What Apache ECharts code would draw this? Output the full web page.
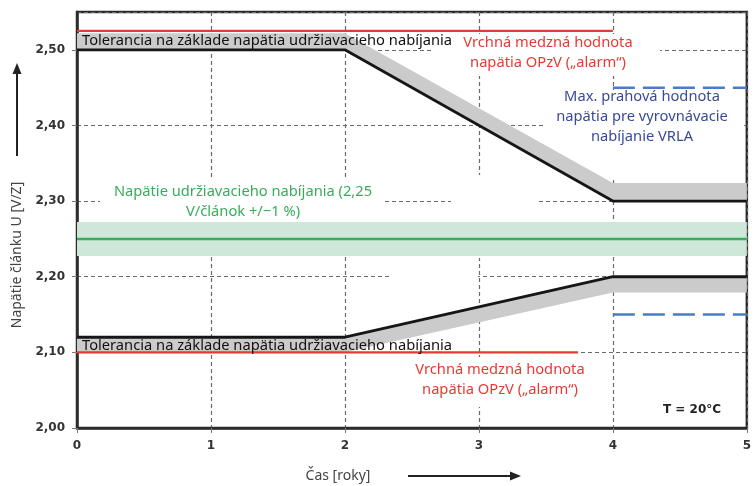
<!DOCTYPE html>
<html>
<head>
<meta charset="utf-8">
<script src="https://cdn.jsdelivr.net/npm/echarts@6/dist/echarts.min.js"></script>
<style>
  html, body { margin: 0; padding: 0; background: #ffffff; }
  #chart { width: 754px; height: 486px; }
</style>
</head>
<body>
<div id="chart"></div>
<script>
// Breakpoints in years for the tolerance corridor
const years = [0, 2, 4, 5];
// Upper limit of the float-charge tolerance and the grey margin above it
const upperLimit = [2.50, 2.50, 2.30, 2.30];
const upperBandTop = [2.522, 2.522, 2.324, 2.324];
// Lower limit of the float-charge tolerance and the grey margin below it
const lowerLimit = [2.12, 2.12, 2.20, 2.20];
const lowerBandBottom = [2.10, 2.10, 2.179, 2.179];
// OPzV alarm thresholds (start / end year, voltage)
const alarmHighYears = [0, 4];
const alarmHighVolt = [2.525, 2.525];
const alarmLowYears = [0, 3.74];
const alarmLowVolt = [2.10, 2.10];
// Float-charge voltage 2.25 V/cell with +/-1 %
const floatYears = [0, 5];
const floatVolt = [2.25, 2.25];
const floatBand = [2.2275, 2.2725];
// VRLA equalising-charge threshold lines
const vrlaYears = [4, 5];
const vrlaHigh = [2.45, 2.45];
const vrlaLow = [2.15, 2.15];
// Axis ticks
const xTicks = [0, 1, 2, 3, 4, 5];
const yTicks = [2.00, 2.10, 2.20, 2.30, 2.40, 2.50];

const pairs = (xs, ys) => xs.map((x, i) => [x, ys[i]]);

const FONT = '"Noto Sans", "Open Sans", sans-serif';
const RED = '#e63a33';
const BLUE = '#3b4a98';
const GREEN = '#37ad5a';

function bandSeries(xs, lo, hi, color) {
  return {
    type: 'custom',
    silent: true,
    z: 2,
    data: [[xs[0], lo[0]]],
    renderItem(params, api) {
      const top = xs.map((x, i) => api.coord([x, hi[i]]));
      const bottom = xs.map((x, i) => api.coord([x, lo[i]])).reverse();
      return {
        type: 'polygon',
        shape: { points: top.concat(bottom) },
        style: { fill: color }
      };
    }
  };
}

function lineSeries(xs, ys, color, width, type, z) {
  return {
    type: 'line',
    data: pairs(xs, ys),
    symbol: 'none',
    silent: true,
    z: z || 3,
    lineStyle: { color: color, width: width, type: type || 'solid', cap: 'butt' }
  };
}

// white patches that keep the grid clear behind the annotations
function patch(x, y, w, h) {
  return { type: 'rect', z: 1, silent: true, shape: { x: x, y: y, width: w, height: h }, style: { fill: '#ffffff' } };
}

function label(x, y, text, color, align) {
  return {
    type: 'text', z: 60, silent: true, x: x, y: y,
    style: {
      text: text, fill: color, font: '14.7px ' + FONT,
      align: align || 'center', verticalAlign: 'middle', lineHeight: 20
    }
  };
}

const fmt = v => Math.abs(v * 10 - Math.round(v * 10)) > 1e-6 ? '' : v.toFixed(2).replace('.', ',');

const greenSeries = lineSeries(floatYears, floatVolt, GREEN, 2.5, 'solid', 3);
greenSeries.markArea = {
  silent: true,
  itemStyle: { color: '#cfe7d8' },
  data: [[{ xAxis: floatYears[0], yAxis: floatBand[0] }, { xAxis: floatYears[1], yAxis: floatBand[1] }]]
};

const option = {
  animation: false,
  backgroundColor: '#ffffff',
  grid: {
    left: 77, right: 7, top: 12, bottom: 58,
    show: true, borderColor: '#2b2b2b', borderWidth: 2.5, backgroundColor: 'transparent'
  },
  xAxis: {
    type: 'value', min: xTicks[0], max: xTicks[xTicks.length - 1], interval: 1,
    axisLine: { show: true, lineStyle: { color: '#2b2b2b', width: 2.5 } },
    axisTick: { show: true, length: 5, lineStyle: { color: '#777' } },
    axisLabel: { margin: 12, color: '#333', fontWeight: 'bold', fontSize: 12, fontFamily: '"DejaVu Sans", sans-serif' },
    splitLine: { show: true, lineStyle: { color: '#6a6a6a', width: 1.2, type: [4, 3] } }
  },
  yAxis: {
    type: 'value', min: yTicks[0], max: 2.55, interval: 0.1,
    axisLine: { show: true, lineStyle: { color: '#2b2b2b', width: 2.5 } },
    axisTick: { show: true, length: 5, lineStyle: { color: '#777' } },
    axisLabel: { margin: 12, color: '#333', fontWeight: 'bold', fontSize: 12, fontFamily: '"DejaVu Sans", sans-serif', formatter: fmt, showMaxLabel: false },
    splitLine: { show: true, lineStyle: { color: '#6a6a6a', width: 1.2, type: [4, 3] } }
  },
  series: [
    bandSeries(years, upperLimit, upperBandTop, '#cbcbcb'),
    bandSeries(years, lowerBandBottom, lowerLimit, '#cbcbcb'),
    greenSeries,
    lineSeries(alarmHighYears, alarmHighVolt, RED, 2.2, 'solid', 4),
    lineSeries(alarmLowYears, alarmLowVolt, RED, 2.2, 'solid', 4),
    lineSeries(years, upperLimit, '#161616', 2.8, 'solid', 5),
    lineSeries(years, lowerLimit, '#161616', 2.8, 'solid', 5),
    lineSeries(vrlaYears, vrlaHigh, '#4a7cc4', 2.5, [22, 8], 4),
    lineSeries(vrlaYears, vrlaLow, '#4a7cc4', 2.5, [22, 8], 4)
  ],
  graphic: [
    patch(100, 180, 283, 41),
    patch(433, 34, 227, 42),
    patch(543, 90, 201, 88),
    patch(415, 357, 175, 50),
    patch(451, 186, 85, 28),
    patch(472, 175, 16, 83),
    patch(390, 270, 88, 14),

    label(82, 41, 'Tolerancia na základe napätia udržiavacieho nabíjania', '#111111', 'left'),
    label(82, 346, 'Tolerancia na základe napätia udržiavacieho nabíjania', '#111111', 'left'),
    label(548, 53, 'Vrchná medzná hodnota\nnapätia OPzV („alarm“)', RED),
    label(642, 117, 'Max. prahová hodnota\nnapätia pre vyrovnávacie\nnabíjanie VRLA', BLUE),
    label(243, 202, 'Napätie udržiavacieho nabíjania (2,25\nV/článok +/−1 %)', GREEN),
    label(500, 380, 'Vrchná medzná hodnota\nnapätia OPzV („alarm“)', RED),
    {
      type: 'text', z: 60, silent: true, x: 692, y: 410,
      style: { text: 'T = 20°C', fill: '#222', font: 'bold 12px "DejaVu Sans", sans-serif', align: 'center', verticalAlign: 'middle' }
    },
    // axis titles with direction arrows
    {
      type: 'text', z: 60, silent: true, x: 17, y: 255, rotation: Math.PI / 2,
      style: { text: 'Napätie článku U [V/Z]', fill: '#444', font: '14px ' + FONT, align: 'center', verticalAlign: 'middle' }
    },
    { type: 'line', z: 60, silent: true, shape: { x1: 17, y1: 156, x2: 17, y2: 72 }, style: { stroke: '#222', lineWidth: 2 } },
    { type: 'polygon', z: 60, silent: true, shape: { points: [[17, 63], [12.5, 74], [21.5, 74]] }, style: { fill: '#222' } },
    {
      type: 'text', z: 60, silent: true, x: 338, y: 476,
      style: { text: 'Čas [roky]', fill: '#444', font: '14px ' + FONT, align: 'center', verticalAlign: 'middle' }
    },
    { type: 'line', z: 60, silent: true, shape: { x1: 408, y1: 476, x2: 513, y2: 476 }, style: { stroke: '#222', lineWidth: 2 } },
    { type: 'polygon', z: 60, silent: true, shape: { points: [[521, 476], [510, 471.5], [510, 480.5]] }, style: { fill: '#222' } }
  ]
};

const chart = echarts.init(document.getElementById('chart'), null, { renderer: 'canvas' });
chart.setOption(option);
</script>
</body>
</html>
